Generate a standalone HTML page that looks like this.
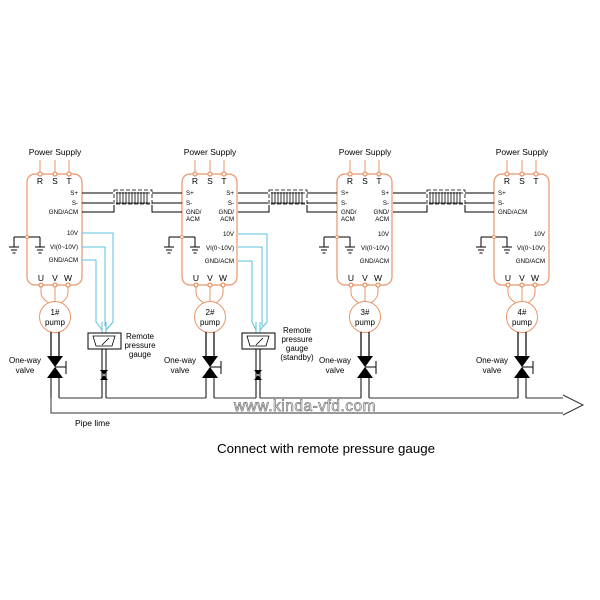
<!DOCTYPE html>
<html><head><meta charset="utf-8"><style>
html,body{margin:0;padding:0;background:#fff}
svg{display:block}
text{font-family:"Liberation Sans",sans-serif}
</style></head><body>
<svg width="600" height="600" viewBox="0 0 600 600" xmlns="http://www.w3.org/2000/svg">
<defs>
<g id="gnd" stroke="#000" stroke-width="1">
<line x1="0" y1="0" x2="0" y2="8"/><line x1="-5" y1="8" x2="5" y2="8"/><line x1="-3" y1="11" x2="3" y2="11"/><line x1="-1.5" y1="14" x2="1.5" y2="14"/>
</g>
<g id="vfd">
<text x="28" y="155" font-size="8.5" text-anchor="middle">Power Supply</text>
<g stroke="#e8956a" stroke-width="1"><line x1="13" y1="160" x2="13" y2="174"/><line x1="28" y1="160" x2="28" y2="174"/><line x1="42" y1="160" x2="42" y2="174"/></g>
<rect x="0" y="174" width="55" height="111" rx="8" fill="none" stroke="#e8956a" stroke-width="1.2"/>
<g fill="#fff" stroke="#e8956a" stroke-width="1.3"><circle cx="13" cy="174" r="2"/><circle cx="28" cy="174" r="2"/><circle cx="42" cy="174" r="2"/>
<circle cx="14" cy="285" r="2"/><circle cx="28" cy="285" r="2"/><circle cx="41" cy="285" r="2"/></g>
<g font-size="8.5" text-anchor="middle"><text x="13" y="184">R</text><text x="28" y="184">S</text><text x="42" y="184">T</text>
<text x="14" y="281">U</text><text x="28" y="281">V</text><text x="41" y="281">W</text></g>
<g stroke="#e8956a" fill="none" stroke-width="1">
<path d="M14 287 L14 293 Q14 298 22 303"/><path d="M28 287 L28 302"/><path d="M41 287 L41 293 Q41 298 34 303"/>
<circle cx="28" cy="317" r="15.5" fill="#fff"/></g>
<g stroke="#000" stroke-width="1"><line x1="-13" y1="237" x2="13" y2="237"/><line x1="-13" y1="237" x2="-13" y2="239"/><line x1="13" y1="237" x2="13" y2="239"/></g>
<circle cx="0" cy="237" r="1.5" fill="#fff" stroke="#e8956a"/>
<use href="#gnd" x="-13" y="239"/><use href="#gnd" x="13" y="239"/>
<g stroke="#000" stroke-width="1.2" fill="none">
<line x1="24" y1="332" x2="24" y2="357"/><line x1="32" y1="332" x2="32" y2="357"/>
</g>
<polygon points="20,356 36,356 28,367 20,378 36,378 28,367" fill="#000"/>
<g stroke="#000" stroke-width="1"><line x1="28" y1="367" x2="39" y2="367"/><line x1="39" y1="361" x2="39" y2="374"/>
<line x1="24" y1="378" x2="24" y2="398"/><line x1="32" y1="378" x2="32" y2="398"/></g>
<text x="-2" y="363" font-size="8" text-anchor="middle">One-way</text><text x="-2" y="373" font-size="8" text-anchor="middle">valve</text>
</g>
<g id="gauge">
<g stroke="#5bc0de" stroke-width="1" fill="none"><line x1="-2" y1="322" x2="-2" y2="333"/><line x1="2" y1="322" x2="2" y2="333"/></g>
<rect x="-16" y="333" width="33" height="16" fill="#fff" stroke="#000"/>
<path d="M-11 336 L11 336 L8 346 L-8 346 Z" fill="none" stroke="#000" stroke-width="0.8"/>
<line x1="-2" y1="345" x2="5" y2="338" stroke="#000" stroke-width="0.8"/>
<g stroke="#000" stroke-width="1"><line x1="-2" y1="349" x2="-2" y2="398"/><line x1="2" y1="349" x2="2" y2="398"/></g>
<polygon points="-4,370 4,370 0,375 -4,380 4,380 0,375" fill="#000"/>
</g>
</defs>

<use href="#vfd" x="27"/>
<use href="#vfd" x="182"/>
<use href="#vfd" x="337"/>
<use href="#vfd" x="494"/>

<g font-size="6.2" text-anchor="end">
<text x="78" y="195">S+</text><text x="78" y="205">S-</text><text x="78" y="214">GND/ACM</text>
<text x="78" y="235">10V</text><text x="78" y="249">VI(0~10V)</text><text x="78" y="262">GND/ACM</text>
<text x="234" y="195">S+</text><text x="234" y="205">S-</text><text x="234" y="214">GND/</text><text x="234" y="221">ACM</text>
<text x="234" y="236">10V</text><text x="234" y="250">VI(0~10V)</text><text x="234" y="263">GND/ACM</text>
<text x="389" y="195">S+</text><text x="389" y="205">S-</text><text x="389" y="214">GND/</text><text x="389" y="221">ACM</text>
<text x="389" y="236">10V</text><text x="389" y="250">VI(0~10V)</text><text x="389" y="263">GND/ACM</text>
<text x="545" y="236">10V</text><text x="545" y="250">VI(0~10V)</text><text x="545" y="263">GND/ACM</text>
</g>
<g font-size="6.2">
<text x="186" y="195">S+</text><text x="186" y="205">S-</text><text x="186" y="214">GND/</text><text x="186" y="221">ACM</text>
<text x="341" y="195">S+</text><text x="341" y="205">S-</text><text x="341" y="214">GND/</text><text x="341" y="221">ACM</text>
<text x="498" y="195">S+</text><text x="498" y="205">S-</text><text x="498" y="214">GND/ACM</text>
</g>
<g font-size="8" text-anchor="middle">
<text x="55" y="315">1#</text><text x="55" y="325">pump</text>
<text x="210" y="315">2#</text><text x="210" y="325">pump</text>
<text x="365" y="315">3#</text><text x="365" y="325">pump</text>
<text x="522" y="315">4#</text><text x="522" y="325">pump</text>
</g>

<g stroke="#000" stroke-width="1" fill="none">
<path d="M82 193 H113 M152 193 H182 M82 203 H113 M152 203 H182 M82 212 H114 V205 M182 212 H152 V205"/>
<path d="M238 193 H268 M307 193 H337 M238 203 H268 M307 203 H337 M238 212 H269 V205 M337 212 H307 V205"/>
<path d="M393 193 H426 M465 193 H494 M393 203 H426 M465 203 H494 M393 212 H427 V205 M494 212 H465 V205"/>
</g>
<g fill="none" stroke="#000" stroke-width="0.8">
<rect x="114" y="190" width="38" height="14" stroke-dasharray="4,2"/>
<rect x="269" y="190" width="38" height="14" stroke-dasharray="4,2"/>
<rect x="427" y="190" width="38" height="14" stroke-dasharray="4,2"/>
<path d="M116 193 h34 M116 203 h34 M271 193 h34 M271 203 h34 M429 193 h34 M429 203 h34"/>
<path d="M117 192v12M120 192v12M123 192v12M126 192v12M129 192v12M132 192v12M135 192v12M138 192v12M141 192v12M144 192v12M147 192v12"/>
<path d="M272 192v12M275 192v12M278 192v12M281 192v12M284 192v12M287 192v12M290 192v12M293 192v12M296 192v12M299 192v12M302 192v12"/>
<path d="M430 192v12M433 192v12M436 192v12M439 192v12M442 192v12M445 192v12M448 192v12M451 192v12M454 192v12M457 192v12M460 192v12"/>
</g>

<g stroke="#5bc0de" stroke-width="1" fill="none">
<path d="M82 233 H113 V322 L106 330 M82 247 H105 V326 M82 260 H96 V322 L102 330"/>
<path d="M238 234 H267 V322 L260 330 M238 247 H262 V326 M238 261 H252 V322 L256 330"/>
</g>
<use href="#gauge" x="104"/>
<use href="#gauge" x="258"/>
<g font-size="8" text-anchor="middle">
<text x="140" y="339">Remote</text><text x="140" y="348">pressure</text><text x="140" y="357">gauge</text>
<text x="297" y="333">Remote</text><text x="297" y="342">pressure</text><text x="297" y="351">gauge</text><text x="297" y="360">(standby)</text>
</g>

<g stroke="#333" stroke-width="1" fill="none">
<path d="M51 398 V413 H563"/>
<path d="M59 398 H102 M106 398 H206 M214 398 H256 M260 398 H361 M369 398 H518 M526 398 H563"/>
<path d="M563 395 L583 405 L563 415"/>
</g>
<text x="305" y="411" font-size="15.5" text-anchor="middle" fill="#fff" stroke="#777" stroke-width="0.7" letter-spacing="0.5">www.kinda-vfd.com</text>
<text x="75" y="426" font-size="8.5">Pipe lime</text>
<text x="326" y="453" font-size="13.3" text-anchor="middle">Connect with remote pressure gauge</text>
</svg>
</body></html>
